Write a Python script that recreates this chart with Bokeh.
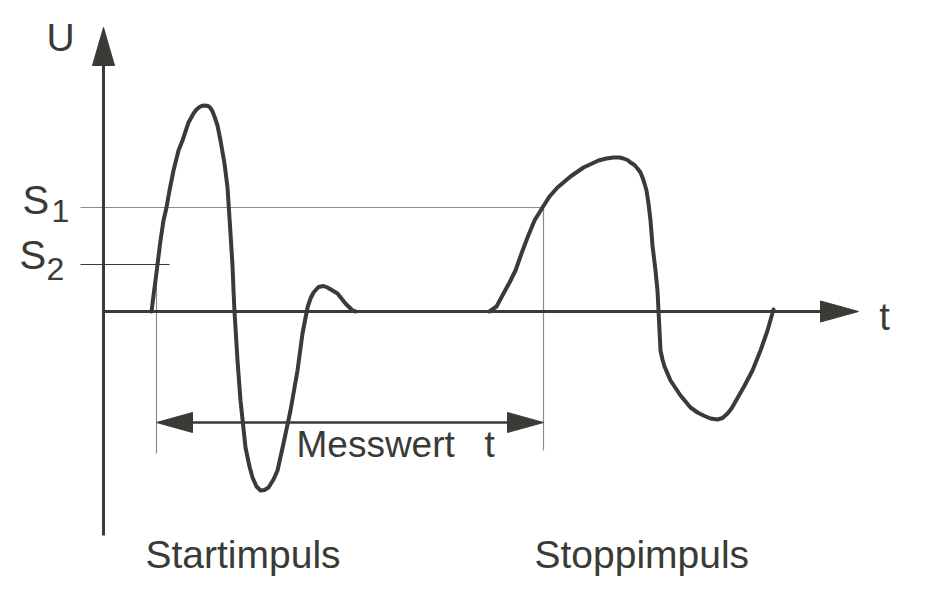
from bokeh.plotting import figure
from bokeh.models import Range1d
from bokeh.core.properties import value
from bokeh.embed import file_html
from bokeh.resources import INLINE

# ---------------- data (t = time units, U = voltage units) ----------------
start_t = [48, 50, 52, 54, 57, 60, 63, 66, 70, 75, 79, 85, 90, 93, 96, 99, 102, 105, 107, 109, 111,
           114, 117, 121, 124, 127, 129, 130, 131, 134, 137, 142, 146, 149, 153, 157, 161, 165, 170,
           174, 180, 187, 194, 199, 204, 207, 210, 215, 220, 224, 229, 234, 242, 249, 252]
start_u = [0, 16, 31, 47, 71, 91, 104, 121, 141, 161, 171, 189, 198, 202, 204.5, 205.8, 206, 205.3, 203.5, 200, 195,
           186, 171, 148, 124, 78, 46, 21, 0, -49, -89, -136, -155, -166, -175, -179, -178.5, -176, -168,
           -159, -132, -99, -59, -22, 4, 13, 19, 24.5, 25.5, 24, 21, 18, 8, 1, 0]

stop_t = [386, 393, 400, 406, 412, 418, 424, 431, 439, 446, 454, 467, 480, 495, 503, 510, 516, 520, 524, 527, 531, 534,
          537, 539, 541, 543, 545, 547, 549, 552, 554, 555, 556, 557, 559, 561, 567, 577, 587, 594, 600, 607, 614,
          619, 624, 628, 632, 640, 649, 657, 664, 670]
stop_u = [0, 5, 18, 29, 41, 58, 74, 91, 104, 115, 124, 135, 144, 151, 153, 154, 154, 153, 151.5, 149, 146.5, 143,
          139, 134, 128, 121, 108, 91, 66, 41, 21, 1, -19, -39, -48, -55, -69, -84, -96, -101, -104, -107, -108,
          -106.5, -102, -97, -90, -76, -59, -39, -19, 2]

S1 = 104          # threshold 1
S2 = 47           # threshold 2
t_start = 53      # start instant (crossing of S2)
t_stop = 440      # stop instant (crossing of S1)

u_axis_min, u_axis_max = -224, 284
t_axis_max = 755

labels_axis = ["U", "t"]
labels_pulse = ["Startimpuls", "Stoppimpuls"]
label_measure = ["Messwert", "t"]

# ---------------- styles ----------------
INK = "#3a3a36"
THIN = "#8c8c8c"
FONT = "Liberation Sans"
HEAD_L = 38       # axis arrow head length
HEAD_W = 10       # axis arrow head half width
DHEAD_L = 36
DHEAD_W = 10
DY = 13           # text baseline correction

p = figure(width=937, height=589, output_backend="svg", toolbar_location=None,
           x_axis_type=None, y_axis_type=None,
           x_range=Range1d(-103, 834), y_range=Range1d(-278, 311),
           min_border=0, min_border_left=0, min_border_right=0,
           min_border_top=0, min_border_bottom=0)
p.grid.visible = False
p.outline_line_color = None
p.background_fill_color = "white"
p.border_fill_color = "white"

# thin threshold / marker lines
p.line([-23, t_stop], [S1, S1], line_color=THIN, line_width=1.2)
p.line([-23, t_start + 13], [S2, S2], line_color=INK, line_width=1.2)
p.line([t_start, t_start], [S2, -142], line_color=THIN, line_width=1.2)
p.line([t_stop, t_stop], [S1, -139], line_color=THIN, line_width=1.2)

# axes
p.line([0, 0], [u_axis_min, u_axis_max - HEAD_L], line_color=INK, line_width=3)
p.line([0, t_axis_max - HEAD_L], [0, 0], line_color=INK, line_width=3)
p.patch([-HEAD_W - 1, 0, HEAD_W + 1], [u_axis_max - HEAD_L, u_axis_max, u_axis_max - HEAD_L],
        fill_color=INK, line_color=INK)
p.patch([t_axis_max - HEAD_L, t_axis_max, t_axis_max - HEAD_L], [HEAD_W + 0.5, 0, -HEAD_W - 0.5],
        fill_color=INK, line_color=INK)

# measured interval double arrow
yd = -111
p.line([t_start + DHEAD_L - 2, t_stop - DHEAD_L + 2], [yd, yd], line_color=INK, line_width=2.5)
p.patch([t_start, t_start + DHEAD_L, t_start + DHEAD_L], [yd, yd + DHEAD_W, yd - DHEAD_W],
        fill_color=INK, line_color=INK)
p.patch([t_stop, t_stop - DHEAD_L, t_stop - DHEAD_L], [yd, yd + DHEAD_W, yd - DHEAD_W],
        fill_color=INK, line_color=INK)

# waveform
p.line(start_t, start_u, line_color=INK, line_width=4, line_join="round", line_cap="round")
p.line(stop_t, stop_u, line_color=INK, line_width=4, line_join="round", line_cap="round")

def txt(x, y, s, size, align="left"):
    p.text(x=[x], y=[y + DY], text=[s], text_font=value(FONT), text_font_size=f"{size}px",
           text_color=INK, text_align=align, text_baseline="alphabetic")

txt(-43, 261, labels_axis[0], 39, "center")
txt(781, -18, labels_axis[1], 38, "center")
txt(-81, 99, "S", 40)
txt(-52, 88, "1", 32)
txt(-84, 44, "S", 40)
txt(-57, 30, "2", 32)
txt(193, -146, label_measure[0], 37)
txt(381, -146, label_measure[1], 37)
txt(42, -256, labels_pulse[0], 39)
txt(431, -256, labels_pulse[1], 39)

open("out.html", "w").write(file_html(p, INLINE))
